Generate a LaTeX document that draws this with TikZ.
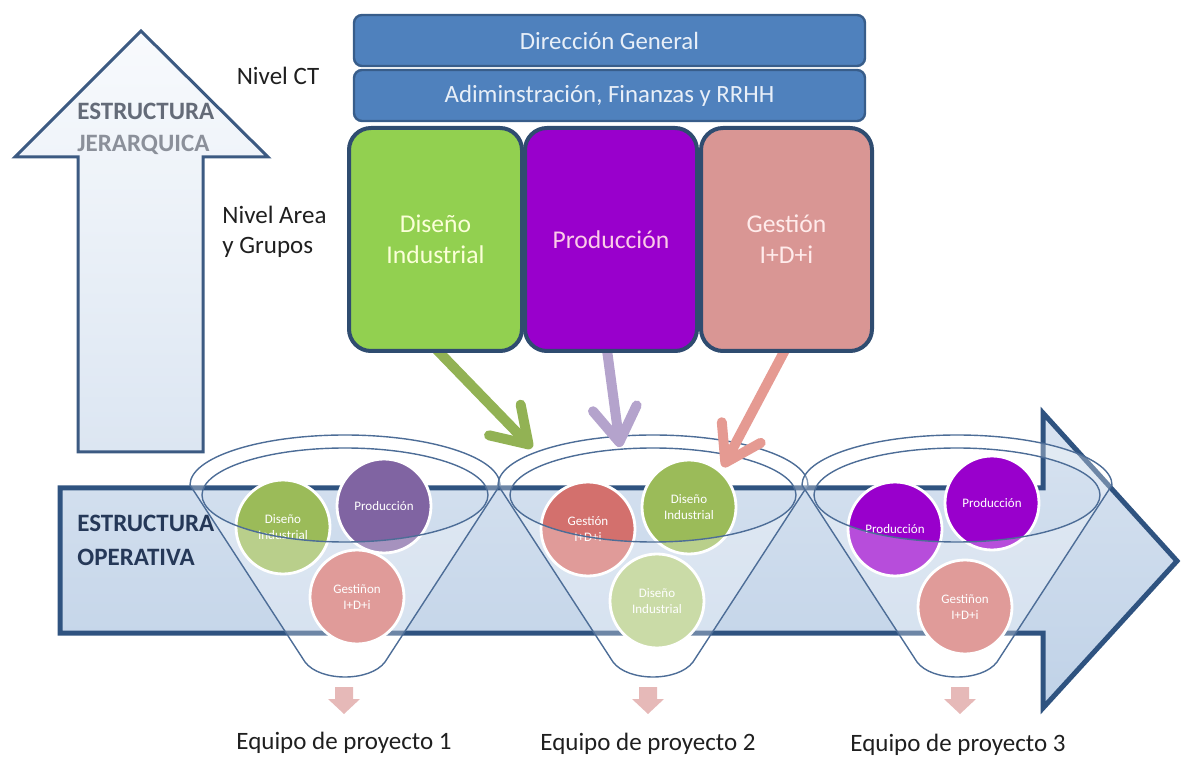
\documentclass[tikz,border=0pt]{standalone}
\usepackage{fontspec}
\setmainfont{Carlito}
\usetikzlibrary{arrows.meta}
\definecolor{navyline}{HTML}{2F4C70}
\definecolor{arrline}{HTML}{2F5380}
\definecolor{upline}{HTML}{3C5A82}
\definecolor{boxblue}{HTML}{4F81BD}
\definecolor{boxblueline}{HTML}{385D8A}
\definecolor{boxtext}{HTML}{E8EFF8}
\definecolor{agreen}{HTML}{92D050}
\definecolor{apurple}{HTML}{9900CC}
\definecolor{asalmon}{HTML}{D99694}
\definecolor{cgreen}{HTML}{9BBB59}
\definecolor{clgreen}{HTML}{B4CC82}
\definecolor{cpurple}{HTML}{8064A2}
\definecolor{csalmon}{HTML}{D3706D}
\definecolor{cvivid}{HTML}{9900CC}
\definecolor{argreen}{HTML}{92B254}
\definecolor{arpurple}{HTML}{B4A3CC}
\definecolor{arsalmon}{HTML}{E59A92}
\definecolor{droppink}{HTML}{E6B9B8}
\definecolor{funline}{HTML}{4D6D97}
\definecolor{opertext}{HTML}{253858}
\definecolor{jertext}{HTML}{646B78}
\tikzset{
  lbl/.style={font=\fontsize{12.5}{15}\selectfont, text=black!88, inner sep=0pt},
  topbox/.style={draw=boxblueline, fill=boxblue, rounded corners=4pt, line width=1.2pt,
    text=boxtext, font=\fontsize{12.4}{15}\selectfont, minimum width=255.5pt, minimum height=25.5pt, inner sep=0pt},
  areabox/.style={rounded corners=11pt, draw=navyline, line width=2pt,
    font=\fontsize{12.8}{15.5}\selectfont, align=center, minimum height=111.5pt, inner sep=0pt},
  circ/.style={circle, minimum size=47pt, inner sep=0pt, draw=white, line width=1.4pt,
    text=white, font=\fontsize{6.5}{8}\selectfont, align=center},
  funnelline/.style={draw=funline, line width=0.7pt},
  flow/.style={line width=5pt, line cap=round, -{Straight Barb[length=17pt,width=22pt,round]}},
  drop/.style={fill=droppink},
}
\begin{document}
\begin{tikzpicture}[x=0.5pt,y=-0.5pt]
\useasboundingbox (0,0) rectangle (1183,758);

% vertical (hierarchical) arrow
\draw[upline, line width=1.5pt, line join=miter, top color=white!70!boxtext, middle color=boxblue!30, bottom color=boxblue!20]
  (141,31) -- (268,157) -- (203,157) -- (203,452) -- (78,452) -- (78,157) -- (15,157) -- cycle;
\node[font=\bfseries\fontsize{12.5}{15}\selectfont, text=jertext, anchor=west, inner sep=0pt] (ej1) at (77,111) {ESTRUCTURA};
\node[font=\bfseries\fontsize{12.5}{15}\selectfont, text=jertext!75, anchor=west, inner sep=0pt] (ej2) at (77,145) {JERARQUICA};

% horizontal (operative) arrow
\draw[arrline, line width=2.5pt, line join=miter, top color=boxblue!22, bottom color=boxblue!36]
  (60,488) -- (1043,488) -- (1043,413) -- (1177,561) -- (1043,708) -- (1043,633) -- (60,633) -- cycle;
\node[font=\bfseries\fontsize{12.5}{17}\selectfont, text=opertext, anchor=west, align=left, inner sep=0pt] (eo) at (77,540) {ESTRUCTURA\\OPERATIVA};

% level labels
\node[lbl] (nct) at (278,76) {Nivel CT};
\node[lbl, anchor=west, align=left] (nag) at (222,232) {Nivel Area\\y Grupos};

% funnel circles
\node[circ, fill=cgreen] (f1d) at (283,527) {Diseño\\Industrial};
\node[circ, fill=cpurple] (f1p) at (384,506) {Producción};
\node[circ, fill=csalmon] (f1g) at (357,597) {Gestiñon\\I+D+i};

\node[circ, fill=csalmon] (f2g) at (588,529) {Gestión\\I+D+i};
\node[circ, fill=cgreen] (f2d) at (689,507) {Diseño\\Industrial};
\node[circ, fill=clgreen] (f2l) at (657,601) {Diseño\\Industrial};

\node[circ, fill=cvivid] (f3a) at (895,529) {Producción};
\node[circ, fill=cvivid] (f3b) at (992,503) {Producción};
\node[circ, fill=csalmon] (f3g) at (965,607) {Gestiñon\\I+D+i};

% funnels
\foreach \cx/\nm in {345/fa, 653/fb, 957/fc}{
  \path[fill=white, fill opacity=0.3, even odd rule]
    (\cx-155,485) arc[start angle=180, end angle=360, x radius=155, y radius=50]
    -- (\cx+40,662) .. controls (\cx+25,682) and (\cx-25,682) .. (\cx-40,662) -- cycle
    (\cx,495) ellipse[x radius=143, y radius=47];
  \draw[funnelline]
    (\cx-155,485) arc[start angle=180, end angle=360, x radius=155, y radius=50]
    -- (\cx+40,662) .. controls (\cx+25,682) and (\cx-25,682) .. (\cx-40,662) -- cycle;
  \draw[funnelline] (\cx,495) ellipse[x radius=143, y radius=47];
  \coordinate (\nm) at (\cx,680);
}

% drop arrows below funnels
\foreach \dx/\nm in {344/da, 648/db, 960/dc}{
  \fill[drop] (\dx-9,687) -- (\dx+9,687) -- (\dx+9,699) -- (\dx+16,699) -- (\dx,714) -- (\dx-16,699) -- (\dx-9,699) -- cycle;
}

% team labels
\node[lbl] (t1) at (344,743) {Equipo de proyecto 1};
\node[lbl] (t2) at (648,744) {Equipo de proyecto 2};
\node[lbl] (t3) at (958,745) {Equipo de proyecto 3};

% top boxes
\node[topbox] (dg) at (609.5,40.5) {Dirección General};
\node[topbox] (adm) at (609.5,95.5) {Adiminstración, Finanzas y RRHH};

% flow arrows from areas to funnel 2
\coordinate (gtip) at (532,448);
\coordinate (ptip) at (620,447);
\coordinate (stip) at (723,467);
\coordinate (gst) at (437,350);
\coordinate (pst) at (607,350);
\coordinate (sst) at (785,350);
\draw[flow, argreen] (gst) -- (gtip);
\draw[flow, arpurple] (pst) -- (ptip);
\draw[flow, arsalmon] (sst) -- (stip);

% area boxes
\node[areabox, fill=agreen, minimum width=86.5pt, text=green!10!yellow!15] (dis) at (435.5,239.5) {Diseño\\Industrial};
\node[areabox, fill=apurple, minimum width=86pt, text=magenta!20] (pro) at (611,239.5) {Producción};
\node[areabox, fill=asalmon, minimum width=85.5pt, text=red!8] (ges) at (786.5,239.5) {Gestión\\I+D+i};
\end{tikzpicture}
\end{document}
